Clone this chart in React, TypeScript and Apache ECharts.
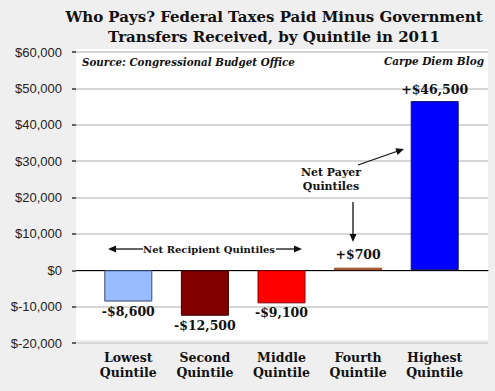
import React, { useEffect, useRef } from "react";
import * as echarts from "echarts";

const categories = ["Lowest\nQuintile", "Second\nQuintile", "Middle\nQuintile", "Fourth\nQuintile", "Highest\nQuintile"];
const values = [-8600, -12500, -9100, 700, 46500];
const valueLabels = ["-$8,600", "-$12,500", "-$9,100", "+$700", "+$46,500"];
const fills = ["#99bbff", "#800000", "#ff0000", "#f4a070", "#0000ff"];
const borders = ["#3a4a70", "#3a0000", "#800000", "#8a3a10", "#101060"];
const yMin = -20000;
const yMax = 60000;
const yStep = 10000;

const SERIF = "'DejaVu Serif', 'Liberation Serif', serif";

export default function App() {
  const ref = useRef<HTMLDivElement>(null);
  useEffect(() => {
    if (!ref.current) return;
    const chart = echarts.init(ref.current, undefined, { renderer: "svg" });
    const fmt = (v: number) => {
      const s = Math.abs(v).toLocaleString("en-US");
      return v < 0 ? "$-" + s : "$" + s;
    };
    const arrowHead = (tx: number, ty: number, dx: number, dy: number) => {
      const len = Math.hypot(dx, dy);
      const ux = dx / len, uy = dy / len;
      const px = -uy, py = ux;
      const L = 8, W = 3.5;
      return {
        type: "polygon",
        z: 100,
        shape: {
          points: [
            [tx, ty],
            [tx - ux * L + px * W, ty - uy * L + py * W],
            [tx - ux * L - px * W, ty - uy * L - py * W],
          ],
        },
        style: { fill: "#111" },
      };
    };
    const line = (x1: number, y1: number, x2: number, y2: number) => ({
      type: "line",
      z: 100,
      shape: { x1, y1, x2, y2 },
      style: { stroke: "#111", lineWidth: 1.3 },
    });
    chart.setOption({
      animation: false,
      backgroundColor: "#efefef",
      grid: [
        { left: 90, right: 22, top: 52, bottom: 48 },
        { left: 76, right: 7, top: 52, bottom: 48 },
      ],
      xAxis: [
        {
          type: "category",
          gridIndex: 0,
          data: categories,
          axisLine: { show: false, onZero: false },
          axisTick: { show: false },
          axisLabel: {
            margin: 7,
            fontFamily: SERIF,
            fontWeight: "bold",
            fontSize: 12.5,
            lineHeight: 15,
            color: "#111",
          },
        },
        {
          type: "category",
          gridIndex: 1,
          data: [""],
          axisLine: { show: true, onZero: true, lineStyle: { color: "#000", width: 1 } },
          axisTick: { show: false },
          axisLabel: { show: false },
        },
      ],
      yAxis: [
        {
          type: "value",
          gridIndex: 0,
          min: yMin,
          max: yMax,
          interval: yStep,
          show: false,
          splitLine: { show: false },
        },
        {
          type: "value",
          gridIndex: 1,
          min: yMin,
          max: yMax,
          interval: yStep,
          axisLine: { show: false },
          axisTick: { show: true, length: 4, lineStyle: { color: "#333", width: 1.5 } },
          axisLabel: {
            margin: 14,
            fontFamily: "'Liberation Sans', Arial, sans-serif",
            fontSize: 13,
            color: "#222",
            formatter: fmt,
          },
          splitLine: { show: true, lineStyle: { color: "#d6d6d6", width: 2 } },
        },
      ],
      graphic: [
        {
          type: "rect",
          z: -100,
          silent: true,
          shape: { x: 76, y: 49, width: 412, height: 291 },
          style: { fill: "#ffffff" },
        },
        {
          type: "text",
          x: 274,
          y: 17,
          style: {
            text: "Who Pays? Federal Taxes Paid Minus Government",
            fontFamily: SERIF,
            fontWeight: "bold",
            fontSize: 15,
            fill: "#111",
            align: "center",
            verticalAlign: "middle",
          },
        },
        {
          type: "text",
          x: 274,
          y: 37,
          style: {
            text: "Transfers Received, by Quintile in 2011",
            fontFamily: SERIF,
            fontWeight: "bold",
            fontSize: 15,
            fill: "#111",
            align: "center",
            verticalAlign: "middle",
          },
        },
        {
          type: "text",
          x: 82,
          y: 62,
          style: {
            text: "Source: Congressional Budget Office",
            fontFamily: SERIF,
            fontWeight: "bold",
            fontStyle: "italic",
            fontSize: 10.3,
            fill: "#111",
            align: "left",
            verticalAlign: "middle",
          },
        },
        {
          type: "text",
          x: 484,
          y: 61,
          style: {
            text: "Carpe Diem Blog",
            fontFamily: SERIF,
            fontWeight: "bold",
            fontStyle: "italic",
            fontSize: 10.5,
            fill: "#111",
            align: "right",
            verticalAlign: "middle",
          },
        },
        {
          type: "text",
          x: 209,
          y: 249,
          z: 100,
          style: {
            text: "Net Recipient Quintiles",
            fontFamily: SERIF,
            fontWeight: "bold",
            fontSize: 10,
            fill: "#111",
            align: "center",
            verticalAlign: "middle",
          },
        },
        line(114, 249, 143, 249),
        arrowHead(108, 249, -1, 0),
        line(276, 249, 296, 249),
        arrowHead(302, 249, 1, 0),
        {
          type: "text",
          x: 331,
          y: 179,
          z: 100,
          style: {
            text: "Net Payer\nQuintiles",
            fontFamily: SERIF,
            fontWeight: "bold",
            fontSize: 11,
            lineHeight: 14,
            fill: "#111",
            align: "center",
            verticalAlign: "middle",
          },
        },
        line(358, 165, 398, 151),
        arrowHead(404, 149, 46, -16),
        line(353, 202, 353, 235),
        arrowHead(353, 242, 0, 1),
      ],
      series: [
        {
          type: "bar",
          xAxisIndex: 0,
          yAxisIndex: 0,
          barWidth: 48,
          z: 3,
          data: values.map((v, i) => ({
            value: v,
            itemStyle: { color: fills[i], borderColor: borders[i], borderWidth: 1 },
            label: {
              show: true,
              position: v >= 0 ? "top" : "bottom",
              distance: v >= 0 ? (i === 3 ? 7 : 5) : 3,
              formatter: valueLabels[i],
              fontFamily: SERIF,
              fontWeight: "bold",
              fontSize: 12.5,
              color: "#111",
            },
          })),
        },
      ],
    });
    return () => chart.dispose();
  }, []);
  return (
    <div
      ref={ref}
      style={{ position: "fixed", left: 0, top: 0, width: 495, height: 391 }}
    />
  );
}
